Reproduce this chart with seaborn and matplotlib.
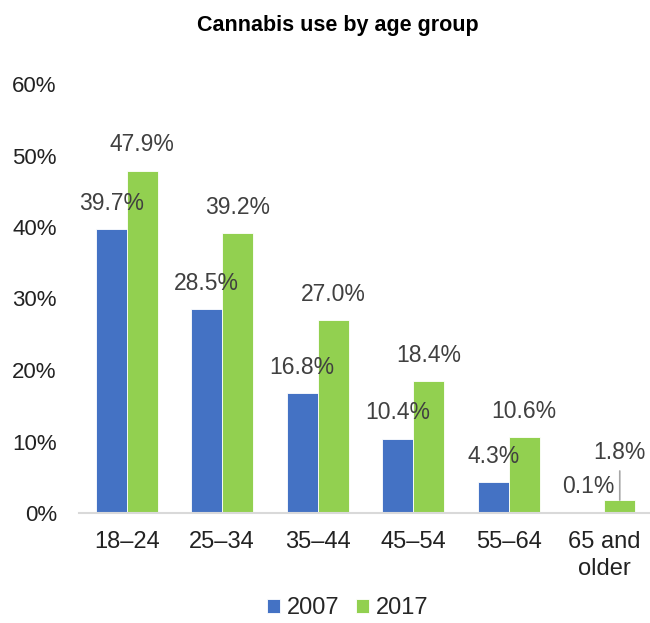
import matplotlib
matplotlib.use("Agg")
import matplotlib.pyplot as plt
import seaborn as sns
import pandas as pd

categories = ["18\u201324", "25\u201334", "35\u201344", "45\u201354", "55\u201364", "65 and\nolder"]
years = ["2007", "2017"]
values_2007 = [39.7, 28.5, 16.8, 10.4, 4.3, 0.1]
values_2017 = [47.9, 39.2, 27.0, 18.4, 10.6, 1.8]
yticks = [0, 10, 20, 30, 40, 50, 60]

df = pd.DataFrame({
    "age": categories * 2,
    "year": [years[0]] * len(categories) + [years[1]] * len(categories),
    "value": values_2007 + values_2017,
})

sns.set_theme(style="white")
plt.rcParams["font.family"] = ["Liberation Sans", "DejaVu Sans"]

fig = plt.figure(figsize=(6.5, 6.23), dpi=100)
ax = fig.add_axes([79 / 650, 110 / 623, 573 / 650, 429 / 623])

palette = {"2007": "#4472C4", "2017": "#92D050"}
sns.barplot(data=df, x="age", y="value", hue="year", palette=palette,
            width=0.65, saturation=1, edgecolor="white", linewidth=0.6,
            ax=ax, legend=True)

ax.set_ylim(0, 60)
ax.set_xlim(-0.5, 5.5)
ax.set_yticks(yticks)
ax.set_yticklabels([f"{t}%" for t in yticks])
ax.tick_params(axis="y", length=0, pad=16, labelsize=16, labelcolor="#222222")
ax.tick_params(axis="x", length=0, pad=13, labelsize=17, labelcolor="#222222")
for lbl in ax.get_xticklabels():
    lbl.set_linespacing(1.3)
ax.set_xlabel("")
ax.set_ylabel("")
for s in ["top", "right", "left"]:
    ax.spines[s].set_visible(False)
ax.spines["bottom"].set_color("#D9D9D9")
ax.spines["bottom"].set_linewidth(1.5)

label_color = "#404040"
n = len(categories)
for ci, cont in enumerate(ax.containers):
    vals = values_2007 if ci == 0 else values_2017
    for i, bar in enumerate(cont):
        x = bar.get_x() + bar.get_width() / 2
        h = bar.get_height()
        if i == n - 1 and ci == 1:
            ax.annotate(f"{vals[i]:.1f}%", (x, h), xytext=(0, 34), textcoords="offset points",
                        ha="center", va="center", fontsize=16.5, color=label_color)
            ax.annotate("", (x, h), xytext=(0, 21), textcoords="offset points",
                        arrowprops=dict(arrowstyle="-", color="#A6A6A6", lw=1.2,
                                        shrinkA=0, shrinkB=0))
        else:
            ax.annotate(f"{vals[i]:.1f}%", (x, h), xytext=(0, 18.5), textcoords="offset points",
                        ha="center", va="center", fontsize=16.5, color=label_color)

leg = ax.legend(loc="center", bbox_to_anchor=((348 - 79) / 573, -(608 - 513) / 429), ncol=2,
                frameon=False, fontsize=17, handlelength=0.55, handleheight=0.55,
                handletextpad=0.3, columnspacing=0.7)

fig.text(338 / 650, 1 - 25 / 623, "Cannabis use by age group", ha="center", va="center",
         fontsize=15.5, fontweight="bold", color="black")

fig.savefig("out.png", dpi=100, facecolor="white")
